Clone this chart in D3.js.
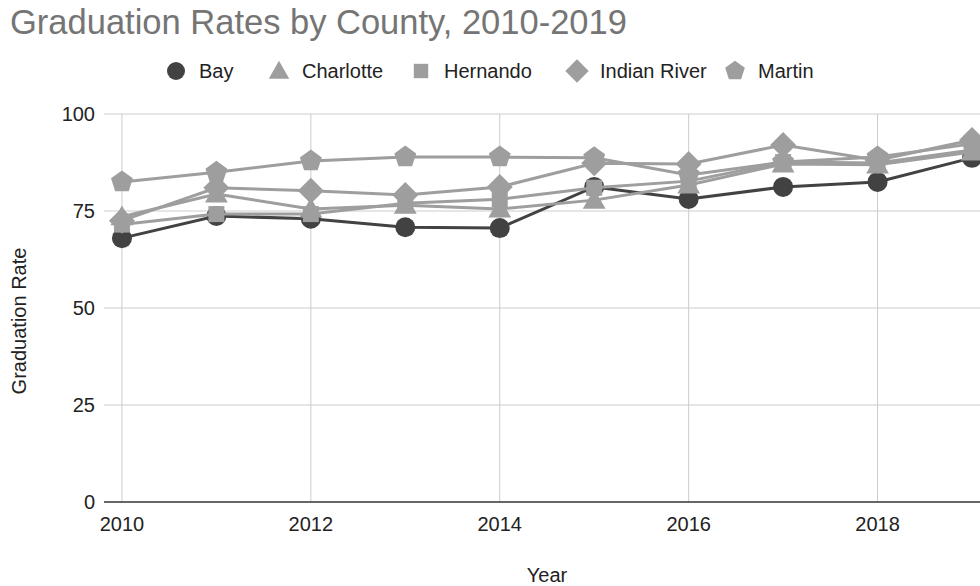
<!DOCTYPE html>
<html>
<head>
<meta charset="utf-8">
<script src="https://cdn.jsdelivr.net/npm/d3@7"></script>
<style>
  body { margin: 0; background: #fff; }
  text { font-family: "Liberation Sans", Arial, sans-serif; }
</style>
</head>
<body>
<div id="chart"></div>
<script>
// Data
var years = [2010, 2011, 2012, 2013, 2014, 2015, 2016, 2017, 2018, 2019];
var bay = [68.0, 73.7, 73.0, 70.8, 70.6, 81.2, 78.1, 81.2, 82.5, 88.7];
var charlotte = [73.5, 79.4, 75.5, 76.5, 75.5, 77.8, 81.7, 87.1, 86.9, 90.2];
var hernando = [71.5, 74.2, 74.2, 77.0, 78.0, 81.0, 82.7, 87.6, 87.4, 90.7];
var indianRiver = [72.5, 81.0, 80.2, 79.1, 81.2, 87.3, 87.1, 92.0, 88.1, 93.3];
var martin = [82.5, 85.0, 87.9, 88.9, 88.9, 88.7, 84.3, 87.6, 88.9, 92.3];
var yTicks = [0, 25, 50, 75, 100];
var xTicks = [2010, 2012, 2014, 2016, 2018];

var series = [
  {name: 'Bay', values: bay, color: '#424242', shape: 'circle'},
  {name: 'Charlotte', values: charlotte, color: '#9e9e9e', shape: 'triangle'},
  {name: 'Hernando', values: hernando, color: '#9e9e9e', shape: 'square'},
  {name: 'Indian River', values: indianRiver, color: '#9e9e9e', shape: 'diamond'},
  {name: 'Martin', values: martin, color: '#9e9e9e', shape: 'pentagon'}
];

var width = 980, height = 586;
var plotLeft = 104, plotRight = 980, plotTop = 114, plotBottom = 502;

var svg = d3.select('#chart').append('svg')
  .attr('width', width)
  .attr('height', height);

var x = d3.scaleLinear().domain([2009.81, 2019]).range([plotLeft, 972]);
var y = d3.scaleLinear().domain([0, 100]).range([plotBottom, plotTop]);

//Marker path for each shape, centered on 0,0
function marker(shape, s) {
  if (shape == 'circle') return d3.symbol(d3.symbolCircle, Math.PI * s * s)();
  if (shape == 'square') return d3.symbol(d3.symbolSquare, (s * 1.6) * (s * 1.6))();
  if (shape == 'triangle') {
    var h = s * 1.9;
    return 'M0,' + (-h * 0.6) + 'L' + (h * 0.6) + ',' + (h * 0.45) + 'L' + (-h * 0.6) + ',' + (h * 0.45) + 'Z';
  }
  if (shape == 'diamond') {
    var d = s * 1.3;
    return 'M0,' + (-d) + 'L' + d + ',0L0,' + d + 'L' + (-d) + ',0Z';
  }
  var pts = d3.range(5).map(function(i) {
    var a = -Math.PI / 2 + i * 2 * Math.PI / 5;
    return [Math.cos(a) * s * 1.15, Math.sin(a) * s * 1.15];
  });
  return 'M' + pts.join('L') + 'Z';
}

//Gridlines
svg.append('g').selectAll('line')
  .data(yTicks.filter(function(t) { return t > 0; }))
  .enter().append('line')
  .attr('x1', plotLeft).attr('x2', plotRight)
  .attr('y1', function(d) { return y(d); })
  .attr('y2', function(d) { return y(d); })
  .attr('stroke', '#cccccc').attr('stroke-width', 1);

svg.append('g').selectAll('line')
  .data(xTicks)
  .enter().append('line')
  .attr('x1', function(d) { return x(d); })
  .attr('x2', function(d) { return x(d); })
  .attr('y1', plotTop).attr('y2', plotBottom)
  .attr('stroke', '#cccccc').attr('stroke-width', 1);

svg.append('line')
  .attr('x1', plotLeft).attr('x2', plotRight)
  .attr('y1', y(0)).attr('y2', y(0))
  .attr('stroke', '#333333').attr('stroke-width', 1.5);

//Tick labels
svg.append('g').selectAll('text')
  .data(yTicks)
  .enter().append('text')
  .attr('x', 95)
  .attr('y', function(d) { return y(d) + 7; })
  .attr('text-anchor', 'end')
  .style('font-size', '20px')
  .attr('fill', '#222')
  .text(function(d) { return d; });

svg.append('g').selectAll('text')
  .data(xTicks)
  .enter().append('text')
  .attr('x', function(d) { return x(d); })
  .attr('y', 531)
  .attr('text-anchor', 'middle')
  .style('font-size', '20px')
  .attr('fill', '#222')
  .text(function(d) { return d; });

//Axis titles
svg.append('text')
  .attr('x', 547).attr('y', 582)
  .attr('text-anchor', 'middle')
  .style('font-size', '20px')
  .attr('fill', '#222')
  .text('Year');

svg.append('text')
  .attr('transform', 'translate(26,321) rotate(-90)')
  .attr('text-anchor', 'middle')
  .style('font-size', '20px')
  .attr('fill', '#222')
  .text('Graduation Rate');

//Title
svg.append('text')
  .attr('x', 10).attr('y', 34)
  .style('font-size', '34.5px')
  .attr('fill', '#757575')
  .text('Graduation Rates by County, 2010-2019');

//Lines and markers
var line = d3.line()
  .x(function(d, i) { return x(years[i]); })
  .y(function(d) { return y(d); });

series.forEach(function(s) {
  var g = svg.append('g');
  g.append('path')
    .attr('d', line(s.values))
    .attr('fill', 'none')
    .attr('stroke', s.color)
    .attr('stroke-width', 3);
  g.selectAll('path.pt')
    .data(s.values)
    .enter().append('path')
    .attr('class', 'pt')
    .attr('d', marker(s.shape, 10))
    .attr('transform', function(d, i) { return 'translate(' + x(years[i]) + ',' + y(d) + ')'; })
    .attr('fill', s.color);
});

//Legend
var legendX = [176, 279, 421, 577, 735];
var legend = svg.append('g').selectAll('g')
  .data(series)
  .enter().append('g')
  .attr('transform', function(d, i) { return 'translate(' + legendX[i] + ',71)'; });

legend.append('path')
  .attr('d', function(d) { return marker(d.shape, 9); })
  .attr('fill', function(d) { return d.color; });

legend.append('text')
  .attr('x', 23).attr('y', 7)
  .style('font-size', '20px')
  .attr('fill', '#222')
  .text(function(d) { return d.name; });
</script>
</body>
</html>
